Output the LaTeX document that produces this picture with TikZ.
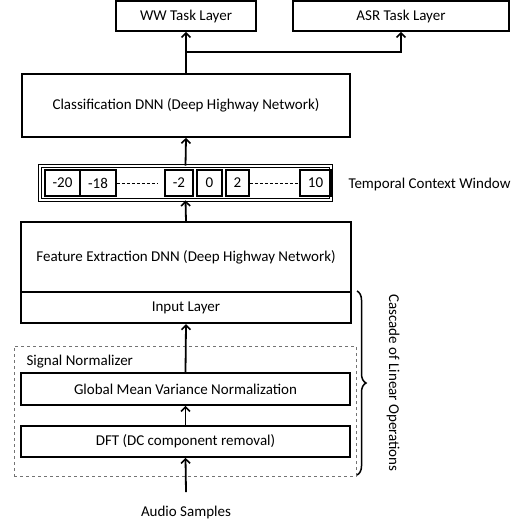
\documentclass[tikz,border=0pt]{standalone}
\usepackage{fontspec}
\setmainfont{Carlito}
\usetikzlibrary{positioning,calc,arrows.meta,decorations.pathreplacing}

\begin{document}
\begin{tikzpicture}[x=1pt,y=-1pt,join=miter,font=\fontsize{15}{17}\selectfont]
		\tikzstyle{layer_box}=[draw, rectangle, line width=1.6pt, inner sep=0pt, align=center];
		\tikzstyle{ctx_cell}=[draw, rectangle, line width=1.5pt, inner sep=0pt, minimum height=26];
		\tikzstyle{flow_arrow}=[line width=1.8pt, -{Straight Barb[length=4.5pt,width=9pt,line width=1.6pt]}];
		\tikzstyle{ctx_dots}=[line width=1pt, dash pattern=on 3.5pt off 1.5pt];

		\useasboundingbox (0,0) rectangle (526,525);

		% task layers
		\node[layer_box, minimum width=140, minimum height=30] (ww) at (186,16) {WW Task Layer};
		\node[layer_box, minimum width=216, minimum height=30] (asr) at (401,16) {ASR Task Layer};
		\node[layer_box, minimum width=328, minimum height=63] (cls) at (186,105.5) {Classification DNN (Deep Highway Network)};

		% temporal context window
		\node[draw, rectangle, line width=0.8pt, double, double distance=1.8pt, inner sep=0pt, minimum width=291, minimum height=34] (win) at (185.5,183) {};
		\node[ctx_cell, minimum width=35] (c_m20) at (62.5,183) {-20};
		\node[ctx_cell, minimum width=36] (c_m18) at (98,183) {-18};
		\node[ctx_cell, minimum width=28] (c_m2) at (179,183) {-2};
		\node[ctx_cell, minimum width=25] (c_0) at (209.5,183) {0};
		\node[ctx_cell, minimum width=23] (c_2) at (237.5,183) {2};
		\node[ctx_cell, minimum width=31] (c_10) at (315.5,183) {10};
		\coordinate (dots_end) at (157,183);
		\draw[ctx_dots] (c_m18.east) -- (dots_end);
		\draw[ctx_dots] (c_2.east) -- (c_10.west);
		\node[anchor=west] (tcw) at (345,184) {Temporal Context Window};

		% feature extraction
		\node[layer_box, minimum width=330, minimum height=70] (fe) at (186,257) {Feature Extraction DNN (Deep Highway Network)};
		\node[layer_box, line width=2.2pt, minimum width=330, minimum height=31] (inp) at (186,307.5) {Input Layer};

		% signal normalizer
		\node[draw=black!55, dashed, line width=0.8pt, rectangle, minimum width=342, minimum height=130, inner sep=0pt] (sn) at (185,411) {};
		\node[anchor=west] (sn_label) at (23,362) {Signal Normalizer};
		\node[layer_box, minimum width=329, minimum height=32] (gmvn) at (185.5,389) {Global Mean Variance Normalization};
		\node[layer_box, minimum width=329, minimum height=31] (dft) at (185.5,441.5) {DFT (DC component removal)};
		\node (audio) at (186,512) {Audio Samples};
		\coordinate (audio_in) at (186,492);

		% arrows
		\draw[flow_arrow] (audio_in) -- (dft.south);
		\draw[flow_arrow] (dft.north) -- (gmvn.south);
		\draw[flow_arrow] (gmvn.north) -- (inp.south);
		\draw[flow_arrow] (fe.north) -- (win.south);
		\draw[flow_arrow] (win.north) -- (cls.north |- cls.south);
		\draw[flow_arrow] (cls.north) -- (ww.south);
		\coordinate (split) at (186,52);
		\draw[flow_arrow] (split) -| (asr.south);

		% cascade brace
		\coordinate (br_top) at (357,291);
		\coordinate (br_bot) at (357,475);
		\draw[line width=1.5pt, decorate, decoration={brace, amplitude=9pt}] (br_top) -- (br_bot);
		\node[rotate=-90] (cascade) at (393,383) {Cascade of Linear Operations};
	\end{tikzpicture}
\end{document}
